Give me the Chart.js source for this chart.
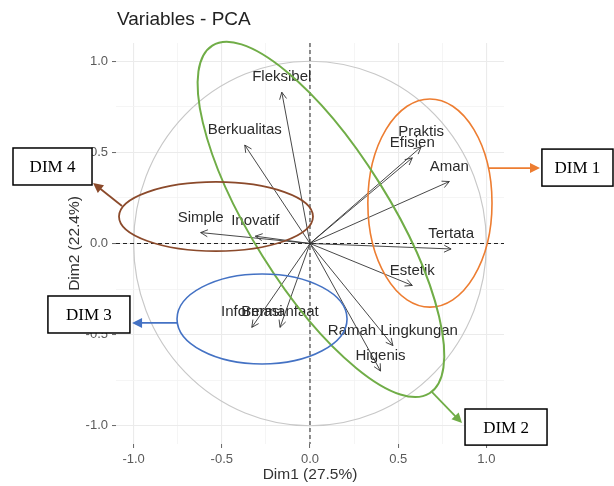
<!DOCTYPE html>
<html><head><meta charset="utf-8">
<script src="https://cdn.jsdelivr.net/npm/chart.js@4.4.0/dist/chart.umd.min.js"></script>
<style>html,body{margin:0;padding:0;background:#fff}#wrap{width:614px;height:486px}</style>
</head><body><div id="wrap"><canvas id="c" width="614" height="486"></canvas></div>
<script>
// ---- data ----
const variables = ["Fleksibel","Berkualitas","Praktis","Efisien","Aman","Tertata","Estetik","Ramah Lingkungan","Higenis","Inovatif","Simple","Informasi","Bermanfaat"];
const dim1 = [-0.16,-0.37,0.63,0.58,0.79,0.80,0.58,0.47,0.40,-0.31,-0.62,-0.33,-0.17];
const dim2 = [0.83,0.54,0.53,0.47,0.34,-0.03,-0.23,-0.56,-0.70,0.04,0.06,-0.46,-0.46];
const axisTicks = [-1.0,-0.5,0.0,0.5,1.0];
const chartTitle = "Variables - PCA";
const xTitle = "Dim1 (27.5%)";
const yTitle = "Dim2 (22.4%)";
const groupLabels = ["DIM 1","DIM 2","DIM 3","DIM 4"];

// ---- annotation geometry (data units) ----
const groupColors = ["#ED7D31","#70AD47","#4472C4","#8B4A2B"];
const ellipses = [
  {cx:0.68, cy:0.222, rx:0.352, ry:0.571, rot:0, w:1.6},
  {cx:0.062, cy:0.132, rx:1.162, ry:0.391, rot:58, w:2},
  {cx:-0.272, cy:-0.414, rx:0.482, ry:0.247, rot:0, w:1.6},
  {cx:-0.533, cy:0.148, rx:0.55, ry:0.19, rot:0, w:1.8}
];
const pointers = [
  {x1:1.015, y1:0.414, x2:1.304, y2:0.414},
  {x1:0.692, y1:-0.815, x2:0.862, y2:-0.985},
  {x1:-0.754, y1:-0.436, x2:-1.009, y2:-0.436},
  {x1:-1.066, y1:0.206, x2:-1.230, y2:0.332}
];
const boxes = [
  {x1:1.315, x2:1.718, y1:0.518, y2:0.315},
  {x1:0.879, x2:1.344, y1:-0.908, y2:-1.106},
  {x1:-1.486, x2:-1.021, y1:-0.288, y2:-0.491},
  {x1:-1.684, x2:-1.236, y1:0.524, y2:0.321}
];

const SANS = "'Liberation Sans', Arial, Helvetica, sans-serif";
const SERIF = "'Liberation Serif', 'Times New Roman', serif";
const isMajor = v => axisTicks.some(t => Math.abs(t - v) < 1e-6);

const datasets = variables.map((v,i)=>({
  label:v,
  data:[{x:0,y:0},{x:dim1[i],y:dim2[i]}],
  showLine:true, borderColor:'#333', borderWidth:0.9,
  pointRadius:0, pointHoverRadius:0, fill:false
}));

function arrowHead(ctx, x1, y1, x2, y2, len, half, filled){
  const a = Math.atan2(y2-y1, x2-x1);
  const bx = x2 - len*Math.cos(a), by = y2 - len*Math.sin(a);
  const px = -Math.sin(a)*half, py = Math.cos(a)*half;
  ctx.beginPath();
  if(filled){
    ctx.moveTo(x2,y2); ctx.lineTo(bx+px,by+py); ctx.lineTo(bx-px,by-py); ctx.closePath(); ctx.fill();
  } else {
    ctx.moveTo(bx+px,by+py); ctx.lineTo(x2,y2); ctx.lineTo(bx-px,by-py); ctx.stroke();
  }
}

const overlay = {
  id:'overlay',
  beforeDatasetsDraw(chart){
    const {ctx, chartArea:a, scales:{x,y}} = chart;
    const x0 = x.getPixelForValue(0), y0 = y.getPixelForValue(0);
    ctx.save();
    ctx.beginPath();
    ctx.ellipse(x0, y0, x.getPixelForValue(1)-x0, y0-y.getPixelForValue(1), 0, 0, Math.PI*2);
    ctx.strokeStyle = '#c8c8c8'; ctx.lineWidth = 1.2; ctx.stroke();
    ctx.setLineDash([4,3]); ctx.strokeStyle = '#222'; ctx.lineWidth = 1;
    ctx.beginPath(); ctx.moveTo(x0, a.top); ctx.lineTo(x0, a.bottom); ctx.stroke();
    ctx.beginPath(); ctx.moveTo(a.left, y0); ctx.lineTo(a.right, y0); ctx.stroke();
    ctx.restore();
  },
  afterDatasetsDraw(chart){
    const {ctx, scales:{x,y}} = chart;
    const X = v => x.getPixelForValue(v), Y = v => y.getPixelForValue(v);
    const sx = X(1)-X(0), sy = Y(0)-Y(1);
    ctx.save();
    // arrowheads + labels
    ctx.strokeStyle = '#333'; ctx.lineWidth = 0.9;
    ctx.font = '15px ' + SANS; ctx.fillStyle = '#2b2b2b';
    ctx.textAlign = 'center'; ctx.textBaseline = 'middle';
    chart.data.datasets.forEach((ds,i)=>{
      const pts = chart.getDatasetMeta(i).data;
      arrowHead(ctx, pts[0].x, pts[0].y, pts[1].x, pts[1].y, 7, 3.5, false);
    });
    chart.data.datasets.forEach((ds,i)=>{
      const pts = chart.getDatasetMeta(i).data;
      ctx.fillText(variables[i], pts[1].x, pts[1].y - 15);
    });
    // group ellipses, pointers, boxes
    groupLabels.forEach((g,k)=>{
      const e = ellipses[k];
      ctx.strokeStyle = groupColors[k]; ctx.fillStyle = groupColors[k];
      ctx.lineWidth = e.w;
      ctx.beginPath();
      ctx.ellipse(X(e.cx), Y(e.cy), e.rx*sx, e.ry*(e.rot ? sx : sy), e.rot*Math.PI/180, 0, Math.PI*2);
      ctx.stroke();
      const p = pointers[k];
      const x1 = X(p.x1), y1 = Y(p.y1), x2 = X(p.x2), y2 = Y(p.y2);
      const ang = Math.atan2(y2-y1, x2-x1);
      ctx.lineWidth = 1.8;
      ctx.beginPath(); ctx.moveTo(x1,y1); ctx.lineTo(x2-8*Math.cos(ang), y2-8*Math.sin(ang)); ctx.stroke();
      arrowHead(ctx, x1, y1, x2, y2, 10, 5, true);
      const b = boxes[k];
      const bx = X(b.x1), by = Y(b.y1), bw = X(b.x2)-bx, bh = Y(b.y2)-by;
      ctx.fillStyle = '#fff'; ctx.fillRect(bx, by, bw, bh);
      ctx.strokeStyle = '#000'; ctx.lineWidth = 1.5; ctx.strokeRect(bx, by, bw, bh);
      ctx.fillStyle = '#000'; ctx.font = '17px ' + SERIF;
      ctx.textAlign = 'center'; ctx.textBaseline = 'middle';
      ctx.fillText(g, bx + bw/2, by + bh/2 + 1);
    });
    ctx.restore();
  },
  afterDraw(chart){
    const {ctx, scales:{x,y}} = chart;
    ctx.save();
    ctx.fillStyle = '#222'; ctx.font = '19px ' + SANS;
    ctx.textAlign = 'left'; ctx.textBaseline = 'middle';
    ctx.fillText(chartTitle, 117, 20);
    ctx.fillStyle = '#333'; ctx.font = '15.5px ' + SANS; ctx.textAlign = 'center';
    ctx.fillText(xTitle, x.getPixelForValue(0), 475);
    ctx.translate(75, y.getPixelForValue(0));
    ctx.rotate(-Math.PI/2);
    ctx.fillText(yTitle, 0, 0);
    ctx.restore();
  }
};

const tickCfg = {
  stepSize:0.25, includeBounds:false, autoSkip:false, maxRotation:0,
  color:'#5a5a5a', font:{size:13, family:SANS}, padding:4,
  callback: v => isMajor(v) ? v.toFixed(1) : ''
};
const gridCfg = {
  color: c => isMajor(c.tick.value) ? '#ebebeb' : '#f3f3f3',
  lineWidth: c => isMajor(c.tick.value) ? 1.1 : 0.8,
  tickColor: c => isMajor(c.tick.value) ? '#666' : 'rgba(0,0,0,0)',
  tickLength:4, tickWidth:1
};

new Chart(document.getElementById('c'), {
  type:'scatter',
  data:{datasets},
  options:{
    responsive:false, animation:false, events:[],
    layout:{padding:{left:0, right:110, top:43, bottom:0}},
    plugins:{legend:{display:false}, tooltip:{enabled:false}, title:{display:false}},
    scales:{
      x:{type:'linear', min:-1.1, max:1.1, afterFit(s){ s.height = 42; },
         ticks:tickCfg, grid:gridCfg, border:{display:false}},
      y:{type:'linear', min:-1.1, max:1.1, afterFit(s){ s.width = 116; },
         ticks:tickCfg, grid:gridCfg, border:{display:false}}
    }
  },
  plugins:[overlay]
});
</script>
</body></html>
